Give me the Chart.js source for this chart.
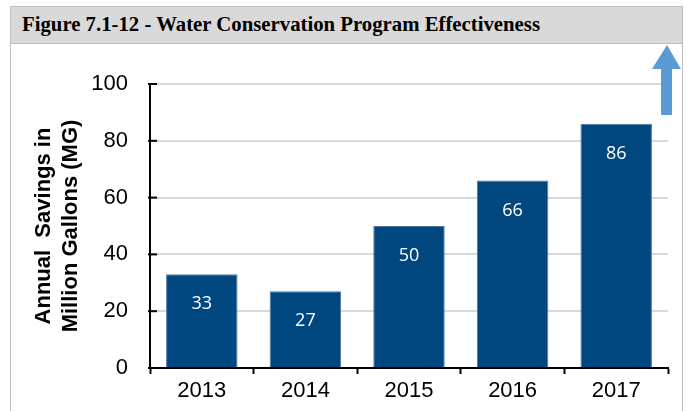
<!DOCTYPE html>
<html>
<head>
<meta charset="utf-8">
<script src="https://cdn.jsdelivr.net/npm/chart.js@4/dist/chart.umd.min.js"></script>
<style>
    body{
        margin:0;
        width:687px;
        height:411px;
        overflow:hidden;
        background:#ffffff;
    }
    #frame{
        position:absolute;
        left:10px;
        top:6px;
        width:673px;
        height:420px;
        border:1px solid #bfbfbf;
        box-sizing:border-box;
    }
    #titleBar{
        height:37px;
        background:#d9d9d9;
        border-bottom:1px solid #bfbfbf;
        box-sizing:border-box;
    }
    #titleText{
        position:absolute;
        left:11px;
        top:7px;
        font-family:"Liberation Serif","Times New Roman",serif;
        font-weight:bold;
        font-size:21px;
        line-height:21px;
        color:#000;
        white-space:nowrap;
        transform-origin:0 0;
    }
    #chart{
        position:absolute;
        left:0;
        top:0;
    }
</style>
</head>
<body>

<div id="frame">
    <div id="titleBar">
        <div id="titleText">Figure 7.1-12 - Water Conservation Program Effectiveness</div>
    </div>
</div>

<canvas id="chart" width="687" height="411"></canvas>

<script>

/*
=================================
DATA
=================================
*/

const years = ["2013", "2014", "2015", "2016", "2017"];

const savings = [33, 27, 50, 66, 86];

const yTicks = [0, 20, 40, 60, 80, 100];

const yTitle = ["Annual  Savings in", "Million Gallons (MG)"];

/*
=================================
TITLE WIDTH
=================================
*/

const titleEl = document.getElementById("titleText");
const titleW = titleEl.getBoundingClientRect().width;
titleEl.style.transform = "scaleX(" + (518 / titleW) + ")";

/*
=================================
PLUGINS
=================================
*/

const barLabels = {
    id:"barLabels",
    afterDatasetsDraw(chart){
        const ctx = chart.ctx;
        const meta = chart.getDatasetMeta(0);
        ctx.save();
        ctx.fillStyle = "#ffffff";
        ctx.font = "18px 'Open Sans', sans-serif";
        ctx.textAlign = "center";
        ctx.textBaseline = "middle";
        meta.data.forEach((bar, i) => {
            ctx.fillText(savings[i], bar.x, bar.y + 30);
        });
        ctx.restore();
    }
};

const innerTicks = {
    id:"innerTicks",
    afterDraw(chart){
        const ctx = chart.ctx;
        const y = chart.scales.y;
        ctx.save();
        ctx.strokeStyle = "#000000";
        ctx.lineWidth = 2;
        yTicks.forEach(v => {
            const py = y.getPixelForValue(v);
            ctx.beginPath();
            ctx.moveTo(y.right - 2, py);
            ctx.lineTo(y.right + 7, py);
            ctx.stroke();
        });
        ctx.restore();
    }
};

const upArrow = {
    id:"upArrow",
    afterDraw(chart){
        const ctx = chart.ctx;
        ctx.save();
        ctx.fillStyle = "#5b9bd5";
        ctx.beginPath();
        ctx.moveTo(667, 45);
        ctx.lineTo(681, 69);
        ctx.lineTo(672, 69);
        ctx.lineTo(672, 115);
        ctx.lineTo(661, 115);
        ctx.lineTo(661, 69);
        ctx.lineTo(652, 69);
        ctx.closePath();
        ctx.fill();
        ctx.restore();
    }
};

/*
=================================
CHART
=================================
*/

new Chart(document.getElementById("chart"), {

    type:"bar",

    data:{
        labels:years,
        datasets:[{
            data:savings,
            backgroundColor:"#00477f",
            borderColor:"#4d77a0",
            borderWidth:1,
            barPercentage:0.69,
            categoryPercentage:1
        }]
    },

    options:{
        responsive:false,
        animation:false,
        devicePixelRatio:1,
        layout:{
            padding:{left:0, right:19, top:84, bottom:0}
        },
        plugins:{
            legend:{display:false},
            tooltip:{enabled:false}
        },
        scales:{
            x:{
                grid:{
                    display:true,
                    drawOnChartArea:false,
                    drawTicks:true,
                    tickLength:6,
                    tickWidth:2,
                    tickColor:"#000000",
                    offset:true
                },
                border:{color:"#000000", width:2},
                ticks:{
                    color:"#000000",
                    font:{family:"'Liberation Sans', Arial, sans-serif", size:22},
                    padding:4
                },
                afterFit(s){ s.height = 43; }
            },
            y:{
                min:0,
                max:100,
                afterBuildTicks(s){
                    s.ticks = yTicks.map(v => ({value:v}));
                },
                grid:{
                    color:"#d9d9d9",
                    lineWidth:2,
                    drawTicks:false
                },
                border:{color:"#000000", width:2},
                ticks:{
                    color:"#000000",
                    font:{family:"'Liberation Sans', Arial, sans-serif", size:22},
                    padding:22
                },
                title:{
                    display:true,
                    text:yTitle,
                    color:"#000000",
                    font:{family:"'Liberation Sans', Arial, sans-serif", size:22, weight:"bold", lineHeight:"27px"},
                    padding:{top:30, bottom:0}
                },
                afterFit(s){ s.width = 150; }
            }
        }
    },

    plugins:[barLabels, innerTicks, upArrow]
});

</script>
</body>
</html>
